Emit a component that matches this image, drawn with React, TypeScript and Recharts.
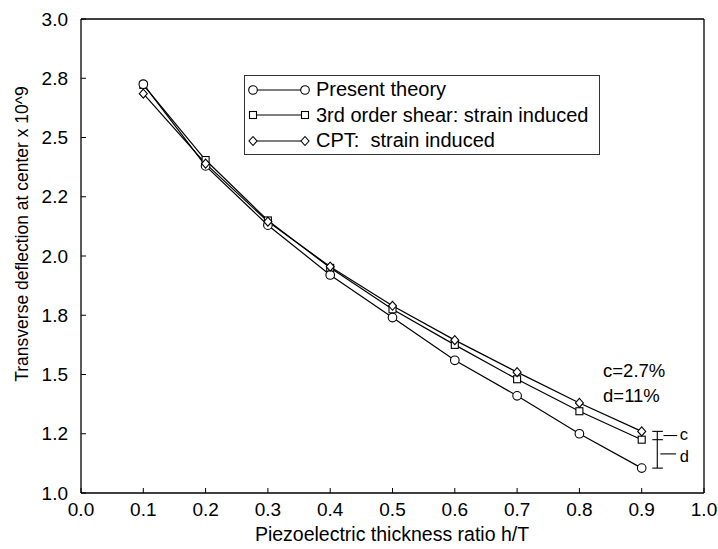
import { LineChart, Line, XAxis, YAxis, Legend, ReferenceLine, ReferenceDot } from 'recharts'

// piezo thickness ratio h/T
const H = [0.1, 0.2, 0.3, 0.4, 0.5, 0.6, 0.7, 0.8, 0.9]
// transverse deflection at center (x 10^9)
const PRESENT = [2.725, 2.38, 2.13, 1.92, 1.74, 1.56, 1.41, 1.25, 1.105]
const SHEAR = [2.722, 2.405, 2.15, 1.95, 1.775, 1.625, 1.48, 1.345, 1.225]
const CPT = [2.685, 2.39, 2.145, 1.955, 1.79, 1.645, 1.51, 1.38, 1.26]

const X_TICKS = [0, 0.1, 0.2, 0.3, 0.4, 0.5, 0.6, 0.7, 0.8, 0.9, 1.0]
const Y_TICKS = [1, 1.25, 1.5, 1.75, 2, 2.25, 2.5, 2.75, 3]
const Y_LABELS = ['1.0', '1.2', '1.5', '1.8', '2.0', '2.2', '2.5', '2.8', '3.0']

const rows = H.map((h, i) => ({ h, present: PRESENT[i], shear: SHEAR[i], cpt: CPT[i] }))

const FONT = '"Liberation Sans", Arial, Helvetica, sans-serif'
const INK = '#000'
const last = H.length - 1

const circleDot = (p: any) => (
  <circle key={`c${p.index}`} cx={p.cx} cy={p.cy} r={4.3} fill='#fff' stroke={INK} strokeWidth={1.1} />
)
const squareDot = (p: any) => (
  <rect key={`s${p.index}`} x={p.cx - 3.5} y={p.cy - 3.5} width={7} height={7}
    fill='#fff' stroke={INK} strokeWidth={1.1} />
)
const diamondDot = (p: any) => (
  <path key={`d${p.index}`}
    d={`M${p.cx},${p.cy - 4.5}L${p.cx + 4},${p.cy}L${p.cx},${p.cy + 4.5}L${p.cx - 4},${p.cy}Z`}
    fill='#fff' stroke={INK} strokeWidth={1.1} />
)

const LEGEND_ITEMS = [
  { name: 'Present theory', dot: circleDot },
  { name: '3rd order shear: strain induced', dot: squareDot },
  { name: 'CPT:  strain induced', dot: diamondDot },
]

function LegendBox() {
  return (
    <div style={{ width: 356, height: 80, boxSizing: 'border-box', border: '1px solid #333',
      background: '#fff', paddingTop: 1, fontFamily: FONT, fontSize: 20, color: INK }}>
      {LEGEND_ITEMS.map(it => (
        <div key={it.name} style={{ display: 'flex', alignItems: 'center', height: 25.5, whiteSpace: 'pre' }}>
          <svg width={71} height={14} style={{ flex: 'none' }}>
            <line x1={8} x2={60} y1={7} y2={7} stroke={INK} strokeWidth={1.1} />
            {it.dot({ cx: 8, cy: 7, index: 0 })}
            {it.dot({ cx: 60, cy: 7, index: 1 })}
          </svg>
          <span>{it.name}</span>
        </div>
      ))}
    </div>
  )
}

const note = (text: string, size = 18.5) => (p: any) => (
  <text x={p.cx} y={p.cy} dy='0.35em' fontFamily={FONT} fontSize={size} fill={INK}>{text}</text>
)

const seg = (x1: number, y1: number, x2: number, y2: number) => (
  <ReferenceLine key={`${x1}-${y1}-${x2}-${y2}`} segment={[{ x: x1, y: y1 }, { x: x2, y: y2 }]}
    stroke={INK} strokeWidth={1.1} />
)

const tickStyle = { fill: INK, fontSize: 19, fontFamily: FONT }

export default function App() {
  const cMid = (CPT[last] + SHEAR[last]) / 2
  const dMid = (SHEAR[last] + PRESENT[last]) / 2
  return (
    <div style={{ position: 'absolute', left: 0, top: 0, width: 718, height: 549, background: '#fff' }}>
      <LineChart width={718} height={549} data={rows} margin={{ top: 19, right: 14, bottom: 0, left: 0 }}>
        <XAxis dataKey='h' type='number' domain={[0, 1]} ticks={X_TICKS} allowDataOverflow
          tickFormatter={(v: number) => v.toFixed(1)} height={56} tickSize={-5} tickMargin={15}
          axisLine={{ stroke: INK, strokeWidth: 1.3 }} tickLine={{ stroke: INK }} tick={tickStyle} />
        <YAxis type='number' domain={[1, 3]} ticks={Y_TICKS} allowDataOverflow
          tickFormatter={(v: number) => Y_LABELS[Y_TICKS.indexOf(v)]} width={81}
          tickSize={-5} tickMargin={18}
          axisLine={{ stroke: INK, strokeWidth: 1.3 }} tickLine={{ stroke: INK }} tick={tickStyle} />
        <ReferenceLine y={3} stroke={INK} strokeWidth={1.3} />
        <ReferenceLine x={1} stroke={INK} strokeWidth={1.3} />

        <Line dataKey='shear' stroke={INK} strokeWidth={1.2} dot={squareDot} isAnimationActive={false} />
        <Line dataKey='present' stroke={INK} strokeWidth={1.2} dot={circleDot} isAnimationActive={false} />
        <Line dataKey='cpt' stroke={INK} strokeWidth={1.2} dot={diamondDot} isAnimationActive={false} />

        {/* differences at h/T = 0.9 */}
        {seg(0.925, CPT[last], 0.925, PRESENT[last])}
        {seg(0.917, CPT[last], 0.934, CPT[last])}
        {seg(0.917, SHEAR[last], 0.934, SHEAR[last])}
        {seg(0.917, PRESENT[last], 0.934, PRESENT[last])}
        {seg(0.935, cMid, 0.957, cMid)}
        {seg(0.93, dMid, 0.955, dMid)}
        <ReferenceDot x={0.961} y={cMid + 0.006} r={0} shape={note('c', 16.5)} />
        <ReferenceDot x={0.961} y={dMid - 0.008} r={0} shape={note('d', 16.5)} />
        <ReferenceDot x={0.838} y={1.517} r={0} shape={note('c=2.7%')} />
        <ReferenceDot x={0.838} y={1.411} r={0} shape={note('d=11%')} />

        <Legend layout='horizontal' verticalAlign='middle' align='center' content={() => <LegendBox />}
          wrapperStyle={{ left: 244, top: 75, width: 356, height: 80 }} />
      </LineChart>

      <div style={{ position: 'absolute', left: 92, width: 600, top: 523, textAlign: 'center',
        fontFamily: FONT, fontSize: 19.5, color: INK }}>
        Piezoelectric thickness ratio h/T
      </div>
      <div style={{ position: 'absolute', left: 22, top: 234, width: 0, height: 0 }}>
        <div style={{ position: 'absolute', left: 0, top: 0, transform: 'translate(-50%, -50%) rotate(-90deg)',
          whiteSpace: 'nowrap', fontFamily: FONT, fontSize: 17.5, color: INK }}>
          Transverse deflection at center x 10^9
        </div>
      </div>
    </div>
  )
}
